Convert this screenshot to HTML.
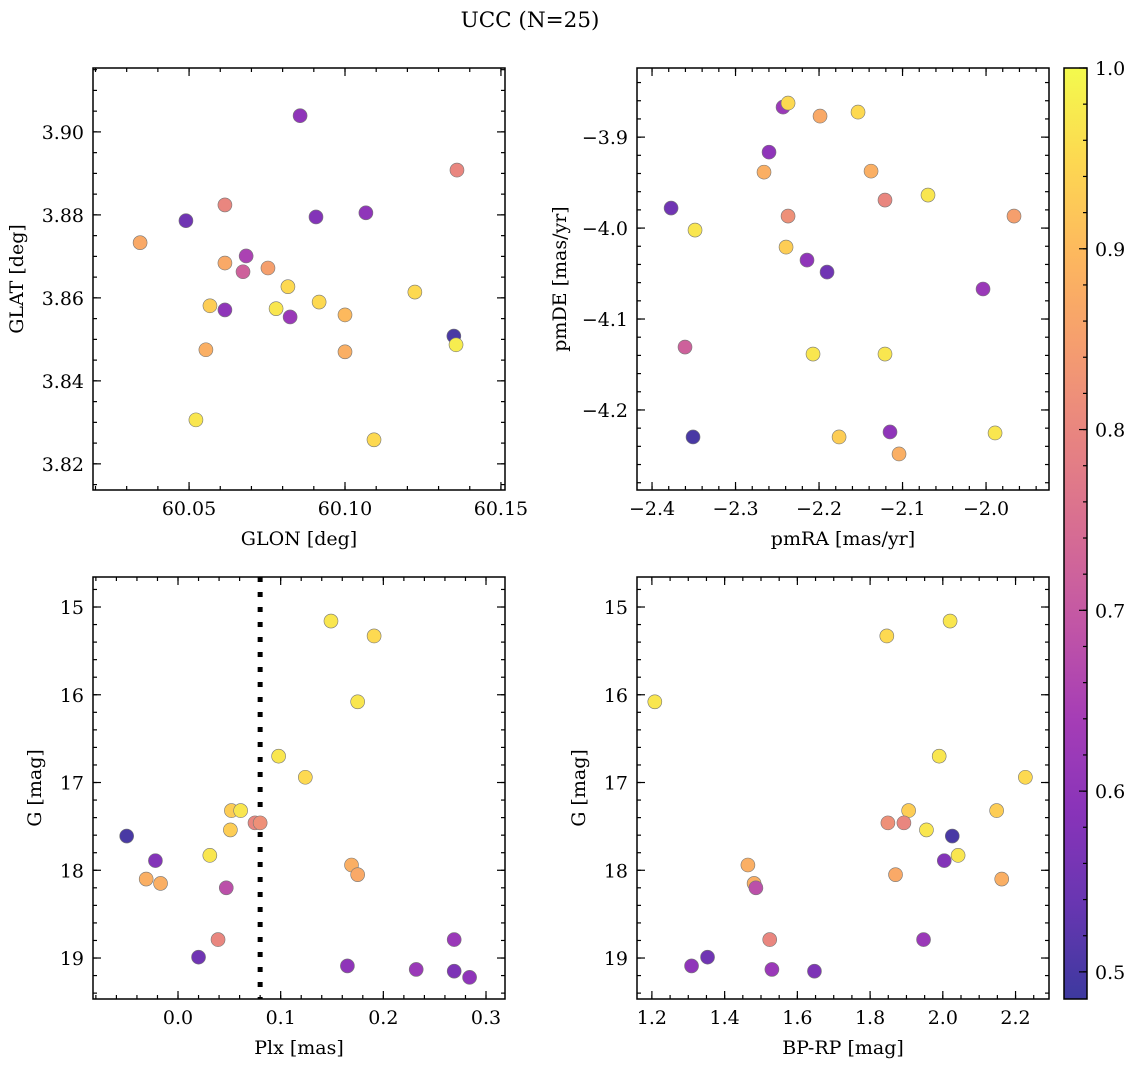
<!DOCTYPE html>
<html><head><meta charset="utf-8">
<style>
html,body{margin:0;padding:0;background:#fff;}
svg text{font-family:"DejaVu Serif","Liberation Serif",serif;fill:#000;}
</style></head>
<body>
<svg id="fig" width="1136" height="1067" viewBox="0 0 1136 1067" xmlns="http://www.w3.org/2000/svg">
<rect width="1136" height="1067" fill="#fff"/>
<text x="530" y="27" font-size="21.5" text-anchor="middle">UCC (N=25)</text>
</svg>
<script>
// Panel 1: GLON vs GLAT
const glon1 = [60.0856,60.1359,60.0615,60.0490,60.0907,60.1067,60.0343,60.0683,60.0673,60.0615,60.0753,60.0817,60.0567,60.0615,60.0779,60.0824,60.0917,60.1000,60.1224,60.0554,60.1000,60.1349,60.1356,60.0522,60.1093];
const glat1 = [3.9039,3.8908,3.8824,3.8786,3.8795,3.8805,3.8733,3.8701,3.8663,3.8684,3.8672,3.8627,3.8581,3.8571,3.8574,3.8554,3.8590,3.8559,3.8614,3.8475,3.8470,3.8508,3.8487,3.8306,3.8258];
const prob1 = [0.60,0.80,0.80,0.55,0.58,0.60,0.87,0.65,0.72,0.87,0.85,0.95,0.93,0.60,0.97,0.62,0.95,0.90,0.95,0.88,0.88,0.50,0.98,0.97,0.95];
// Panel 2: pmRA vs pmDE
const pmra2 = [-2.2431,-2.2371,-2.1988,-2.1533,-2.2599,-2.2659,-2.1377,-2.3772,-2.2371,-2.1210,-2.0695,-1.9665,-2.3485,-2.2395,-2.2144,-2.1904,-2.0036,-2.3605,-2.2072,-2.1210,-2.3509,-2.1150,-2.1760,-1.9892,-2.1042];
const pmde2 = [-3.867,-3.8626,-3.8769,-3.8725,-3.9165,-3.9385,-3.9374,-3.978,-3.9868,-3.9692,-3.9637,-3.9868,-4.0022,-4.0209,-4.0352,-4.0484,-4.067,-4.1308,-4.1385,-4.1385,-4.2297,-4.2242,-4.2297,-4.2253,-4.2484];
const prob2 = [0.62,0.95,0.87,0.95,0.60,0.88,0.88,0.55,0.82,0.80,0.97,0.85,0.97,0.93,0.60,0.55,0.62,0.72,0.97,0.97,0.50,0.60,0.93,0.97,0.88];
// Panel 3: Plx vs G
const plx3 = [0.149,0.191,0.175,0.098,0.124,0.052,0.061,0.051,0.075,0.080,-0.050,0.031,-0.022,-0.031,-0.017,0.169,0.175,0.047,0.039,0.020,0.165,0.232,0.269,0.269,0.284];
const g3 = [15.16,15.33,16.08,16.70,16.94,17.32,17.32,17.54,17.46,17.46,17.61,17.83,17.89,18.10,18.15,17.94,18.05,18.20,18.79,18.99,19.09,19.13,18.79,19.15,19.22];
const prob3 = [0.97,0.95,0.97,0.97,0.95,0.93,0.97,0.93,0.80,0.82,0.50,0.97,0.58,0.88,0.88,0.88,0.87,0.68,0.80,0.55,0.60,0.62,0.62,0.57,0.60];
const plxLine = 0.08;
// Panel 4: BP-RP vs G
const bprp4 = [2.020,1.846,1.208,1.990,2.227,2.148,1.906,1.955,1.849,1.893,2.026,2.042,2.004,2.162,1.481,1.464,1.870,1.486,1.524,1.353,1.309,1.530,1.947,1.647];
const g4 = [15.16,15.33,16.08,16.70,16.94,17.32,17.32,17.54,17.46,17.46,17.61,17.83,17.89,18.10,18.15,17.94,18.05,18.20,18.79,18.99,19.09,19.13,18.79,19.15];
const prob4 = [0.97,0.95,0.97,0.97,0.95,0.93,0.93,0.97,0.82,0.80,0.50,0.97,0.58,0.88,0.88,0.88,0.87,0.68,0.80,0.55,0.60,0.62,0.62,0.57];
// Colorbar
const cbTicks = [0.5,0.6,0.7,0.8,0.9,1.0];
const cbMin = 0.485, cbMax = 1.0;

const FS = 19;
const NS = "http://www.w3.org/2000/svg";
const svg = document.getElementById('fig');
const plasma = [[13,8,135],[65,4,157],[106,0,168],[143,13,164],[177,42,144],[204,71,120],[225,100,98],[242,132,75],[252,166,54],[252,206,37],[240,249,33]];
function cmap(c){
  let t = (c-cbMin)/(cbMax-cbMin); t=Math.max(0,Math.min(1,t));
  const f=t*10, i=Math.min(9,Math.floor(f)), r=f-i;
  const a=plasma[i], b=plasma[i+1];
  const col=[0,1,2].map(k=>Math.round(a[k]+(b[k]-a[k])*r));
  return 'rgb('+col.map(v=>Math.round(v*0.8+255*0.2)).join(',')+')';
}
function mk(tag, attrs, parent){
  const e=document.createElementNS(NS,tag);
  for(const k in attrs) e.setAttribute(k,attrs[k]);
  (parent||svg).appendChild(e); return e;
}
function fmt(v,d){ let s=v.toFixed(d); if(s.startsWith('-')) s='\u2212'+s.slice(1); if(s==='\u22120.0')s='0.0'; return s; }

function panel(o){
  const g=mk('g',{});
  
  
  const L=o.box[0],T=o.box[1],R=o.box[2],B=o.box[3];
  const sx=v=>L+(v-o.xr[0])/(o.xr[1]-o.xr[0])*(R-L);
  const sy=v=>o.yinv ? T+(v-o.yr[0])/(o.yr[1]-o.yr[0])*(B-T) : B-(v-o.yr[0])/(o.yr[1]-o.yr[0])*(B-T);
  const cp='clip-'+o.name;
  const cpe=mk('clipPath',{id:cp},g); mk('rect',{x:L,y:T,width:R-L,height:B-T},cpe);
  const pts=mk('g',{'clip-path':'url(#'+cp+')'},g);
  
  
  if(o.vline!==undefined){
    const ln=mk('line',{x1:sx(o.vline),x2:sx(o.vline),y1:T,y2:B,stroke:'#000','stroke-width':5,'stroke-dasharray':'5,10'},pts);
    
    
  }
  o.xs.forEach((x,i)=>{
    const c=mk('circle',{cx:sx(x),cy:sy(o.ys[i]),r:7,fill:cmap(o.cs[i]),stroke:'#777','stroke-width':0.6},pts);
    
    
  });
  const tk=mk('g',{stroke:'#000','stroke-width':1.2},g);
  const eps=1e-9;
  function ticksRange(a,b,step){const out=[];let s=Math.ceil((a-eps)/step);for(let v=s*step;v<=b+eps;v=(++s)*step)out.push(v);return out;}
  ticksRange(o.xr[0],o.xr[1],o.xminor).forEach(v=>{const x=sx(v);mk('line',{x1:x,x2:x,y1:B,y2:B-4},tk);mk('line',{x1:x,x2:x,y1:T,y2:T+4},tk);});
  ticksRange(o.yr[0],o.yr[1],o.yminor).forEach(v=>{const y=sy(v);mk('line',{x1:L,x2:L+4,y1:y,y2:y},tk);mk('line',{x1:R,x2:R-4,y1:y,y2:y},tk);});
  ticksRange(o.xr[0],o.xr[1],o.xmajor).forEach(v=>{const x=sx(v);mk('line',{x1:x,x2:x,y1:B,y2:B-8},tk);mk('line',{x1:x,x2:x,y1:T,y2:T+8},tk);
    const t=mk('text',{x:x,y:B+25,'font-size':FS,'text-anchor':'middle'},g);t.textContent=fmt(v,o.xd);
    
    });
  ticksRange(o.yr[0],o.yr[1],o.ymajor).forEach(v=>{const y=sy(v);mk('line',{x1:L,x2:L+8,y1:y,y2:y},tk);mk('line',{x1:R,x2:R-8,y1:y,y2:y},tk);
    const t=mk('text',{x:L-9,y:y+7,'font-size':FS,'text-anchor':'end'},g);t.textContent=fmt(v,o.yd);
    
    });
  mk('rect',{x:L,y:T,width:R-L,height:B-T,fill:'none',stroke:'#000','stroke-width':1.5},g);
  const xt=mk('text',{x:(L+R)/2,y:B+55,'font-size':FS,'text-anchor':'middle'},g);xt.textContent=o.xlabel;
  
  
  const yx=o.ylx, yy=(T+B)/2;
  const yt=mk('text',{x:yx,y:yy,'font-size':FS,'text-anchor':'middle',transform:'rotate(-90 '+yx+' '+yy+')'},g);yt.textContent=o.ylabel;
  
  
}

panel({name:'glon-glat-panel',box:[93,68,505,490],xr:[60.0192,60.1513],yr:[3.8137,3.9154],xs:glon1,ys:glat1,cs:prob1,
  xmajor:0.05,xminor:0.01,ymajor:0.02,yminor:0.005,xd:2,yd:2,xlabel:'GLON [deg]',ylabel:'GLAT [deg]',ylx:23});
panel({name:'pm-panel',box:[637,68,1049,490],xr:[-2.418,-1.9246],yr:[-4.288,-3.824],xs:pmra2,ys:pmde2,cs:prob2,
  xmajor:0.1,xminor:0.02,ymajor:0.1,yminor:0.02,xd:1,yd:1,xlabel:'pmRA [mas/yr]',ylabel:'pmDE [mas/yr]',ylx:566});
panel({name:'plx-g-panel',box:[93,577,505,999],xr:[-0.0828,0.3185],yr:[14.658,19.467],yinv:true,xs:plx3,ys:g3,cs:prob3,vline:plxLine,
  xmajor:0.1,xminor:0.02,ymajor:1,yminor:0.2,xd:1,yd:0,xlabel:'Plx [mas]',ylabel:'G [mag]',ylx:41});
panel({name:'cmd-panel',box:[637,577,1049,999],xr:[1.159,2.292],yr:[14.658,19.467],yinv:true,xs:bprp4,ys:g4,cs:prob4,
  xmajor:0.2,xminor:0.05,ymajor:1,yminor:0.2,xd:1,yd:0,xlabel:'BP-RP [mag]',ylabel:'G [mag]',ylx:585});

(function(){
  const L=1064,R=1087,T=68,B=999;
  const cg=mk('g',{});
  
  
  const defs=mk('defs',{},cg);
  const lg=mk('linearGradient',{id:'cbg',x1:0,y1:1,x2:0,y2:0},defs);
  for(let i=0;i<=20;i++){const c=cbMin+(cbMax-cbMin)*i/20;mk('stop',{offset:i/20,'stop-color':cmap(c)},lg);}
  mk('rect',{x:L,y:T,width:R-L,height:B-T,fill:'url(#cbg)'},cg);
  const sy=v=>B-(v-cbMin)/(cbMax-cbMin)*(B-T);
  for(let k=Math.ceil(cbMin/0.02);k*0.02<=cbMax+1e-9;k++){const y=sy(k*0.02);mk('line',{x1:R,x2:R-4,y1:y,y2:y,stroke:'#000','stroke-width':1.2},cg);}
  cbTicks.forEach(v=>{const y=sy(v);mk('line',{x1:R,x2:R-8,y1:y,y2:y,stroke:'#000','stroke-width':1.2},cg);
    const t=mk('text',{x:R+8,y:y+7,'font-size':FS},cg);t.textContent=v.toFixed(1);
    
    });
  mk('rect',{x:L,y:T,width:R-L,height:B-T,fill:'none',stroke:'#000','stroke-width':1.5},cg);
})();
</script>
</body></html>
